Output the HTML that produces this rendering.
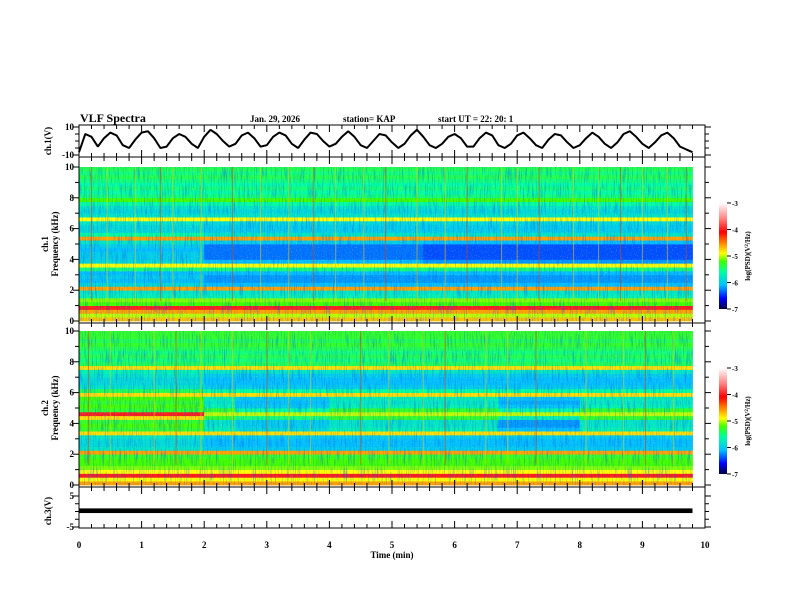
<!DOCTYPE html>
<html><head><meta charset="utf-8"><style>
html,body{margin:0;padding:0;background:#fff}
svg{display:block}
text{font-family:"Liberation Serif",serif;font-weight:bold;fill:#000}
</style></head><body>
<svg id="chart" width="792" height="612" viewBox="0 0 792 612" xmlns="http://www.w3.org/2000/svg">
<defs>
<filter id="streak" x="0" y="0" width="100%" height="100%">
<feTurbulence type="fractalNoise" baseFrequency="0.9 0.06" numOctaves="2" seed="3"/>
<feColorMatrix type="matrix" values="0 0 0 0 0  0 0 0 0 0.1  0 0 0 0 0.9  0 0 0 2.6 -1.25"/>
</filter>
<filter id="speck" x="0" y="0" width="100%" height="100%">
<feTurbulence type="fractalNoise" baseFrequency="0.8 0.8" numOctaves="1" seed="7"/>
<feColorMatrix type="matrix" values="0 0 0 0 0.9  0 0 0 0 1  0 0 0 0 0.2  0 0 0 3 -1.7"/>
</filter>
<linearGradient id="cbar" x1="0" y1="1" x2="0" y2="0">
<stop offset="0" stop-color="#000040"/><stop offset="0.1" stop-color="#0000ff"/>
<stop offset="0.225" stop-color="#00c0ff"/><stop offset="0.35" stop-color="#00ffa0"/>
<stop offset="0.45" stop-color="#40ff00"/><stop offset="0.525" stop-color="#ffff00"/>
<stop offset="0.625" stop-color="#ff8000"/><stop offset="0.725" stop-color="#ff0000"/>
<stop offset="0.85" stop-color="#ff8080"/><stop offset="1" stop-color="#ffffff"/>
</linearGradient>
</defs>
<g id="layer"></g>
</svg>
<script>
// ---- data ----
const wave1Step = 0.1;
const wave1 = [-8,5,3,-4,2,6,4,-3,-5,1,6,7,2,-5,-4,2,5,3,-2,-5,3,8,5,0,-4,-2,4,6,2,-4,-3,3,6,4,-2,-5,1,6,5,0,-4,-2,3,7,3,-3,-5,0,5,4,-1,-5,-2,4,8,3,-3,-5,-2,3,5,2,-4,-4,2,6,4,-3,-5,-2,4,6,2,-3,-5,1,5,4,-1,-5,-3,2,6,3,-2,-5,-1,5,7,3,-2,-5,-1,4,6,2,-4,-6,-8];
const ch3Band = [1.0, -0.5];
const ch3Span = [0, 9.8];
const ch1ProfileA = [-4.7,-5.0,-4.6,-4.0,-5.2,-5.1,-5.7,-5.8,-4.6,-5.9,-6.1,-6.0,-6.1,-5.5,-4.9,-5.9,-6.0,-6.0,-6.1,-6.0,-5.8,-4.6,-5.6,-5.9,-5.9,-5.8,-4.9,-5.8,-5.9,-5.8,-5.6,-5.2,-5.5,-5.6,-5.5,-5.6,-5.5,-5.4,-5.5,-5.4];
const ch1ProfileB = [-4.7,-5.0,-4.6,-4.0,-5.2,-5.1,-5.7,-5.8,-4.6,-6.1,-6.2,-6.2,-6.1,-5.5,-4.9,-6.1,-6.3,-6.3,-6.3,-6.3,-6.0,-4.6,-5.8,-6.0,-6.0,-5.9,-4.9,-5.8,-5.9,-5.8,-5.6,-5.2,-5.5,-5.6,-5.5,-5.6,-5.5,-5.4,-5.5,-5.4];
const ch2ProfileA = [-4.6,-4.9,-4.0,-4.9,-5.1,-5.2,-5.2,-5.3,-4.6,-5.8,-5.9,-5.9,-5.8,-4.8,-5.3,-5.2,-5.3,-4.8,-4.0,-5.3,-5.2,-5.3,-5.2,-4.8,-5.4,-5.8,-5.9,-5.9,-5.8,-5.7,-4.8,-5.4,-5.5,-5.4,-5.5,-5.4,-5.3,-5.4,-5.3,-5.3];
const ch2ProfileB = [-4.6,-4.9,-4.0,-4.9,-5.1,-5.2,-5.2,-5.3,-4.6,-6.0,-6.1,-6.1,-6.0,-4.8,-5.7,-5.8,-5.8,-5.3,-5.0,-5.3,-5.7,-5.8,-5.7,-4.8,-5.6,-6.0,-6.1,-6.1,-6.0,-5.8,-4.8,-5.4,-5.5,-5.4,-5.5,-5.4,-5.3,-5.4,-5.3,-5.3];
const ch1Change = 2.0;
const ch2Change = 2.0;
const ch1Patches = [[5.5,9.8,3.75,5.25,-0.1]];
const ch2Patches = [[2.5,4.0,4.75,5.75,-0.3],[6.7,8.0,4.75,5.75,-0.35],[6.7,8.0,3.5,4.5,-0.4],[2.5,4.0,3.5,4.5,-0.2]];
const ch1Spikes = [0.2,0.45,0.9,1.3,1.5,1.95,2.45,2.9,3.35,3.75,4.1,4.55,4.9,5.4,5.85,6.2,6.75,7.0,7.35,7.9,8.3,8.65,9.0,9.4,9.7];
const ch2Spikes = [0.15,0.5,1.2,1.55,1.95,2.45,3.0,3.35,3.7,4.5,4.95,5.5,5.85,6.5,6.85,7.3,8.1,8.7,9.05,9.5];
const timeTicks = [0,1,2,3,4,5,6,7,8,9,10];
const freqTicks = [0,2,4,6,8,10];
const cbarTicks = [-3,-4,-5,-6,-7];
const tEnd = 9.8, colStep = 0.1, rowStep = 0.25;

// ---- helpers ----
const NS = "http://www.w3.org/2000/svg";
const L = document.getElementById('layer');
function mk(tag, attrs, parent){const e=document.createElementNS(NS,tag);for(const k in attrs)e.setAttribute(k,attrs[k]);(parent||L).appendChild(e);return e;}
const X0=79,X1=705;
const xs = t => X0 + (t/10)*(X1-X0);
const stops=[[-7,[0,0,64]],[-6.6,[0,0,255]],[-6.1,[0,192,255]],[-5.6,[0,255,160]],[-5.2,[64,255,0]],[-4.9,[255,255,0]],[-4.5,[255,128,0]],[-4.1,[255,0,0]],[-3.6,[255,128,128]],[-3,[255,255,255]]];
function cmap(v){v=Math.max(-7,Math.min(-3,v));for(let i=0;i<stops.length-1;i++){const a=stops[i],b=stops[i+1];if(v<=b[0]){const f=(v-a[0])/(b[0]-a[0]);const c=a[1].map((q,k)=>Math.round(q+(b[1][k]-q)*f));return `rgb(${c[0]},${c[1]},${c[2]})`;}}return '#fff';}

function xTicks(y, dir){
  for(let t=0;t<=10.001;t+=0.2){
    const maj=Math.abs(t-Math.round(t))<1e-6;
    const ln=mk('line',{x1:xs(t),x2:xs(t),y1:y,y2:y+dir*(maj?7:4),stroke:'#000','stroke-width':1});
    
    
  }
}
function yTicksSide(ys, x, maj){
  ys.forEach(y=>{const ln=mk('line',{x1:x-(maj?6:4),x2:x,y1:y,y2:y,stroke:'#000'});
   const r=mk('line',{x1:X1,x2:X1+(maj?6:4),y1:y,y2:y,stroke:'#000'});});
}

// ---- header ----
function txt(x,y,s,size,name,anchor,rot){const t=mk('text',{x:x,y:y,'font-size':size,'text-anchor':anchor||'start'});if(rot)t.setAttribute('transform',`rotate(-90 ${x} ${y})`);t.textContent=s;return t;}
txt(80,122,'VLF Spectra',12,'chart-title');
txt(250,122,'Jan. 29, 2026',9,'date-label');
txt(343,122,'station= KAP',9,'station-label');
txt(438,122,'start  UT =   22: 20: 1',9,'start-time-label');

// ---- ch1 waveform panel ----
const w1Top=125,w1Bot=157, wy=v=>141-(v/10)*14;
let pts=wave1.map((v,i)=>`${xs(i*wave1Step).toFixed(1)},${wy(v).toFixed(1)}`).join(' ');
const wl=mk('polyline',{points:pts,fill:'none',stroke:'#000','stroke-width':2,'stroke-linejoin':'bevel'});


const b1=mk('rect',{x:X0,y:w1Top,width:X1-X0,height:w1Bot-w1Top,fill:'none',stroke:'#000'});


xTicks(w1Top,1);xTicks(w1Bot,-1);
yTicksSide([wy(10),wy(-10)],X0,true);yTicksSide([wy(0),wy(5),wy(-5)],X0,false);
txt(74,wy(10)+3,'10',9,'ch1-ytick-label','end');
txt(74,wy(-10)+3,'-10',9,'ch1-ytick-label','end');
txt(51,141,'ch.1(V)',9,'ch1-y-axis-title','middle',true);

// ---- spectrograms ----
function spectro(top,bot,fTop,fBot,profA,profB,change,patches,spikes,label,cbTop,cbBot){
  const fy=f=>fBot-(f/10)*(fBot-fTop);
  const g=mk('g',{});
  
  
  const nC=Math.round(tEnd/colStep);
  for(let i=0;i<nC;i++){
    const t=i*colStep;
    const prof = t<change?profA:profB;
    for(let j=0;j<prof.length;j++){
      const f=j*rowStep;
      let v=prof[j];
      patches.forEach(p=>{if(t>=p[0]&&t<p[1]&&f>=p[2]&&f<p[3])v+=p[4];});
      const r=mk('rect',{x:xs(t).toFixed(2),y:fy(f+rowStep).toFixed(2),width:(xs(colStep)-X0+0.4).toFixed(2),height:(fy(0)-fy(rowStep)+0.4).toFixed(2),fill:cmap(v)},g);
      
      
    }
  }
  mk('rect',{x:X0,y:fTop,width:xs(tEnd)-X0,height:fBot-fTop,filter:'url(#streak)',opacity:0.55},g);
  mk('rect',{x:X0,y:fTop,width:xs(tEnd)-X0,height:fBot-fTop,filter:'url(#speck)',opacity:0.4},g);
  spikes.forEach((s,k)=>{
    const ln=mk('line',{x1:xs(s),x2:xs(s),y1:fTop,y2:fBot-20,stroke:k%3===0?'#e04000':'#f0d000','stroke-width':1,opacity:0.55},g);
    
    
  });
  const fr=mk('rect',{x:X0,y:top,width:X1-X0,height:bot-top,fill:'none',stroke:'#000'});
  
  
  xTicks(top,1);xTicks(bot,-1);
  yTicksSide(freqTicks.map(fy),X0,true);
  yTicksSide([1,3,5,7,9].map(fy),X0,false);
  freqTicks.forEach(f=>txt(74,fy(f)+3,String(f),9,label+'-ytick-label','end'));
  const mid=(fTop+fBot)/2;
  txt(48,mid,label==='ch1'?'ch.1':'ch.2',9,label+'-channel-title','middle',true);
  txt(58,mid,'Frequency (kHz)',9,label+'-y-axis-title','middle',true);
  const cb=mk('rect',{x:719,y:cbTop,width:8,height:cbBot-cbTop,fill:'url(#cbar)'});
  
  
  cbarTicks.forEach(v=>{const y=cbTop+(-3-v)/4*(cbBot-cbTop);
    mk('line',{x1:727,x2:731,y1:y,y2:y,stroke:'#000'});
    txt(732,y+3,String(v),7,label+'-colorbar-tick','start');});
  const lt=mk('text',{x:750,y:(cbTop+cbBot)/2,'font-size':7,'text-anchor':'middle',transform:`rotate(-90 750 ${(cbTop+cbBot)/2})`});
  lt.innerHTML='log(PSD)(V<tspan dy="-2" font-size="5">2</tspan><tspan dy="2">/Hz)</tspan>';
  
  
}
spectro(157,323,167,321,ch1ProfileA,ch1ProfileB,ch1Change,ch1Patches,ch1Spikes,'ch1',203,309);
spectro(323,487,331,485,ch2ProfileA,ch2ProfileB,ch2Change,ch2Patches,ch2Spikes,'ch2',368,474);

// ---- ch3 panel ----
const vy=v=>511.5-(v/5)*15.5;
const band=mk('rect',{x:xs(ch3Span[0]),y:vy(ch3Band[0]),width:xs(ch3Span[1])-xs(ch3Span[0]),height:vy(ch3Band[1])-vy(ch3Band[0]),fill:'#000'});


const b3=mk('rect',{x:X0,y:487,width:X1-X0,height:41,fill:'none',stroke:'#000'});


xTicks(487,1);xTicks(528,-1);
yTicksSide([vy(5),vy(-5)],X0,true);yTicksSide([vy(0),vy(2.5),vy(-2.5)],X0,false);
txt(74,vy(5)+3,'5',9,'ch3-ytick-label','end');
txt(74,vy(-5)+3,'-5',9,'ch3-ytick-label','end');
txt(51,511,'ch.3(V)',9,'ch3-y-axis-title','middle',true);

// ---- time axis ----
timeTicks.forEach(t=>txt(xs(t),548,String(t),9,'time-tick-label','middle'));
txt(392,558,'Time  (min)',9,'x-axis-title','middle');
</script>
</body></html>
